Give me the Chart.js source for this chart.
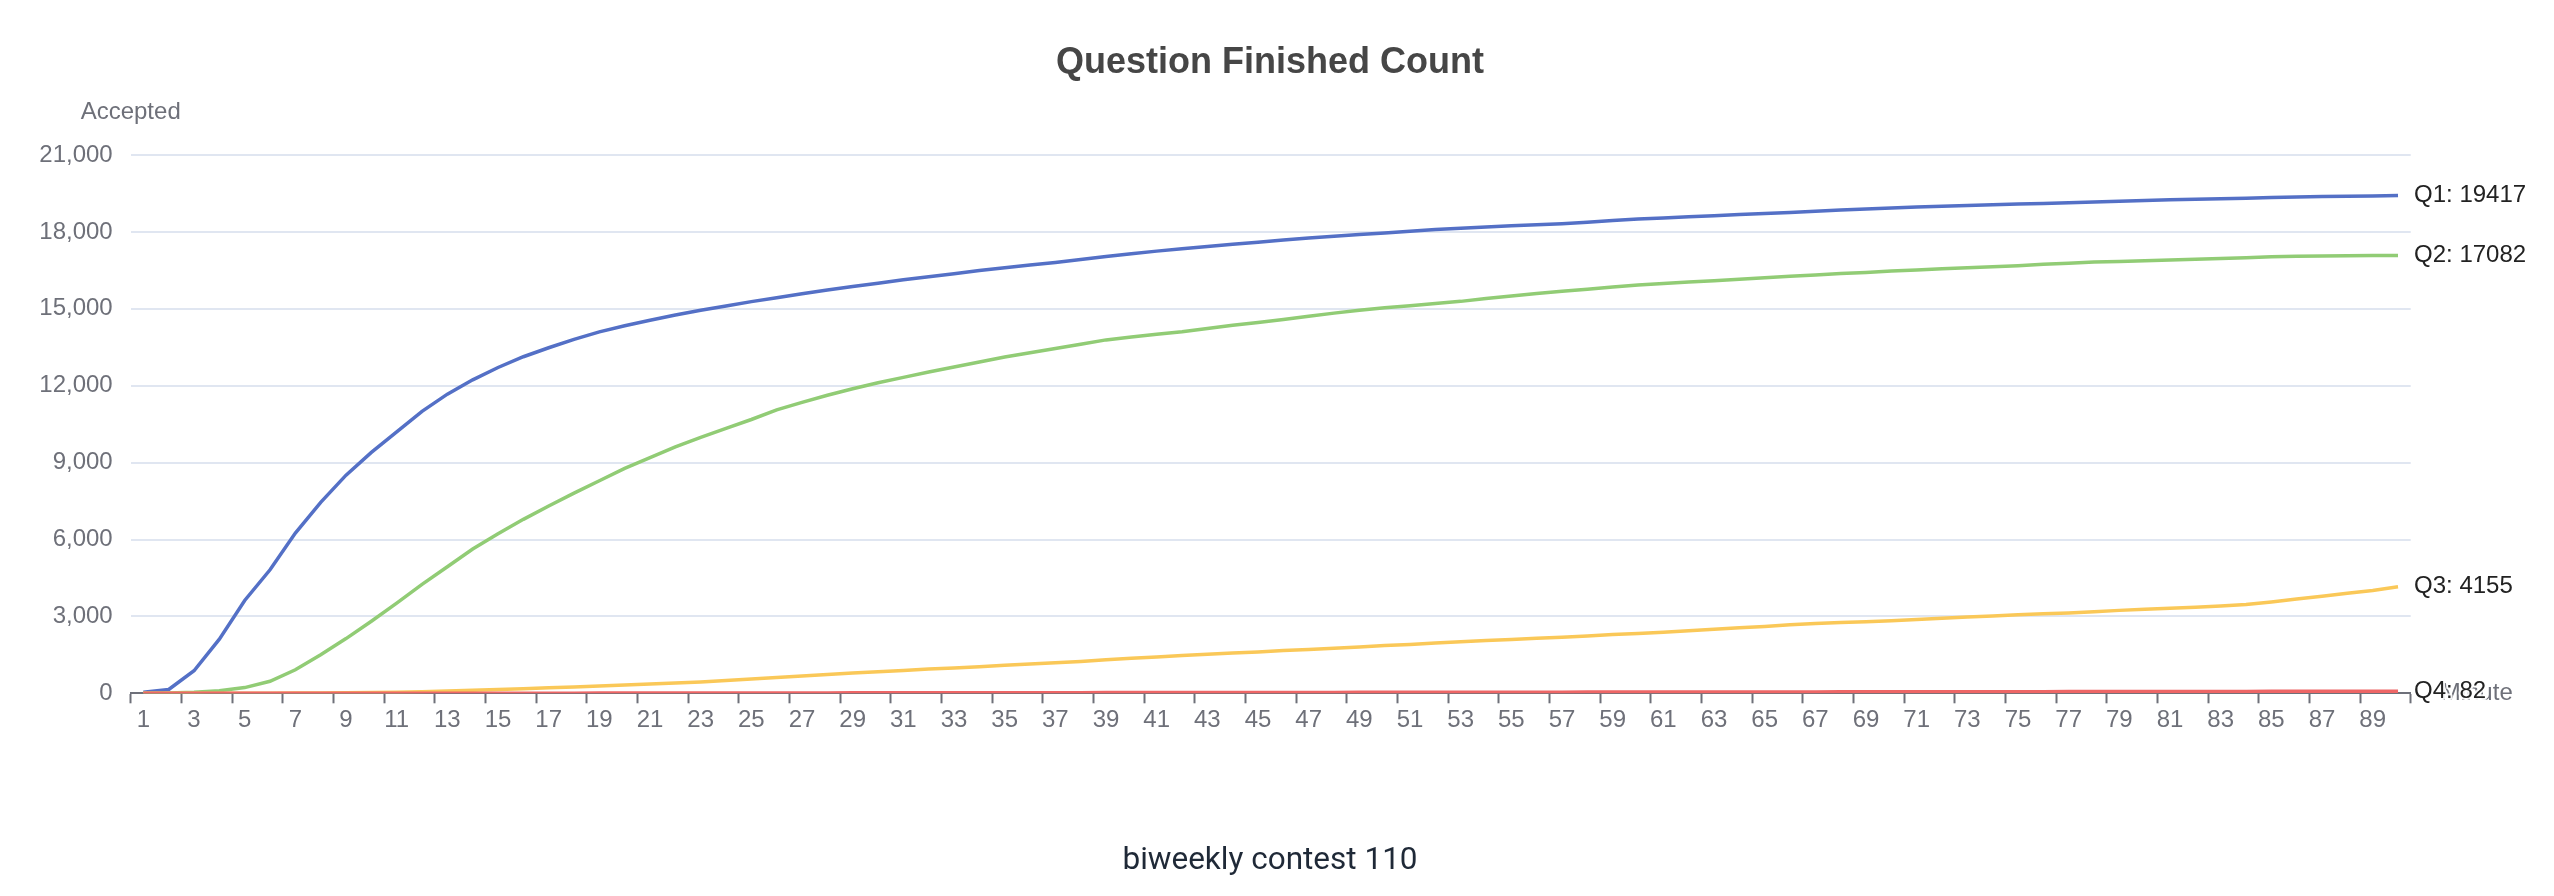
<!DOCTYPE html>
<html lang="en">
<head>
  <meta charset="UTF-8" />
  <title>Question Finished Count</title>
  <script src="https://cdn.jsdelivr.net/npm/chart.js"></script>
  <style>
    body {
      margin: 0;
      background: white;
      width: 2554px;
      height: 896px;
      overflow: hidden;
      position: relative;
      font-family: 'Liberation Sans', Arial, sans-serif;
    }

    #chart {
      position: absolute;
      left: 0;
      top: 0;
    }

    .chart-title {
      position: absolute;
      left: 0;
      top: 39px;
      width: 2540px;
      text-align: center;
      font-size: 36px;
      line-height: 44px;
      font-weight: bold;
      color: #464646;
    }

    .caption {
      position: absolute;
      left: 0;
      top: 839px;
      width: 2540px;
      text-align: center;
      font-family: Roboto, sans-serif;
      font-size: 31.5px;
      line-height: 40px;
      color: #1f2937;
    }
  </style>
</head>
<body>
  <canvas id="chart" width="2554" height="896"></canvas>
  <div class="chart-title">Question Finished Count</div>
  <div class="caption">biweekly contest 110</div>

  <script>
    const minutes = [
      1, 2, 3, 4, 5, 6, 7, 8, 9, 10, 11, 12, 13, 14, 15, 16, 17, 18, 19, 20,
      21, 22, 23, 24, 25, 26, 27, 28, 29, 30, 31, 32, 33, 34, 35, 36, 37, 38, 39, 40,
      41, 42, 43, 44, 45, 46, 47, 48, 49, 50, 51, 52, 53, 54, 55, 56, 57, 58, 59, 60,
      61, 62, 63, 64, 65, 66, 67, 68, 69, 70, 71, 72, 73, 74, 75, 76, 77, 78, 79, 80,
      81, 82, 83, 84, 85, 86, 87, 88, 89, 90
    ];

    const q1 = [
      45, 150, 880, 2110, 3620, 4820, 6250, 7450, 8510, 9400,
      10200, 11000, 11670, 12230, 12710, 13130, 13480, 13810, 14100, 14340,
      14550, 14760, 14940, 15110, 15280, 15430, 15590, 15730, 15870, 16000,
      16130, 16250, 16370, 16490, 16600, 16710, 16810, 16920, 17040, 17150,
      17250, 17340, 17430, 17520, 17600, 17680, 17760, 17830, 17900, 17960,
      18030, 18090, 18145, 18195, 18240, 18280, 18320, 18380, 18440, 18500,
      18545, 18590, 18630, 18675, 18715, 18760, 18805, 18850, 18890, 18930,
      18970, 19000, 19030, 19060, 19085, 19110, 19140, 19170, 19200, 19225,
      19250, 19270, 19295, 19315, 19340, 19360, 19380, 19395, 19405, 19417
    ];

    const q2 = [
      0, 10, 37, 100, 222, 469, 916, 1502, 2134, 2813,
      3520, 4250, 4935, 5630, 6222, 6786, 7305, 7810, 8294, 8773,
      9191, 9609, 9985, 10333, 10681, 11057, 11350, 11628, 11879, 12116,
      12324, 12533, 12728, 12923, 13118, 13285, 13452, 13619, 13787, 13900,
      14005, 14107, 14232, 14357, 14469, 14580, 14706, 14831, 14940, 15040,
      15120, 15207, 15290, 15402, 15500, 15597, 15681, 15764, 15848, 15931,
      15987, 16043, 16099, 16154, 16210, 16266, 16321, 16377, 16419, 16474,
      16516, 16558, 16600, 16641, 16683, 16739, 16781, 16822, 16850, 16878,
      16906, 16934, 16962, 16990, 17032, 17050, 17062, 17070, 17076, 17082
    ];

    const q3 = [
      0, 0, 1, 2, 4, 6, 10, 15, 22, 32,
      45, 62, 85, 115, 150, 180, 215, 250, 285, 320,
      360, 400, 445, 500, 560, 620, 675, 735, 790, 840,
      890, 945, 990, 1040, 1090, 1140, 1190, 1245, 1305, 1365,
      1420, 1470, 1520, 1570, 1615, 1665, 1710, 1760, 1810, 1860,
      1905, 1960, 2015, 2060, 2100, 2145, 2190, 2240, 2290, 2330,
      2380, 2440, 2500, 2555, 2610, 2670, 2720, 2760, 2795, 2830,
      2880, 2930, 2975, 3020, 3060, 3100, 3135, 3185, 3235, 3280,
      3320, 3360, 3410, 3460, 3560, 3680, 3790, 3900, 4010, 4155
    ];

    const q4 = [
      0, 0, 0, 0, 0, 1, 1, 1, 2, 2,
      2, 3, 3, 4, 4, 5, 5, 6, 7, 8,
      9, 10, 11, 12, 13, 14, 15, 16, 17, 18,
      19, 20, 21, 22, 23, 24, 25, 26, 27, 28,
      29, 30, 31, 32, 33, 34, 35, 36, 37, 38,
      39, 40, 41, 42, 43, 44, 45, 46, 47, 48,
      49, 50, 51, 52, 53, 54, 55, 56, 57, 58,
      59, 60, 61, 62, 63, 65, 66, 67, 69, 70,
      71, 72, 73, 75, 76, 77, 78, 80, 81, 82
    ];

    const seriesNames = ["Q1", "Q2", "Q3", "Q4"];
    const seriesColors = ["#5470c6", "#91cc75", "#fac858", "#ee6666"];
    const yMin = 0;
    const yMax = 21000;
    const yStep = 3000;

    const axisGray = "#6E7079";
    const fontFamily = "'Liberation Sans', Arial, sans-serif";

    // axis names + end labels, drawn after the lines
    const extraText = {
      id: "extraText",
      afterDatasetsDraw(chart) {
        const ctx = chart.ctx;
        const area = chart.chartArea;
        ctx.save();

        ctx.font = "24px " + fontFamily;
        ctx.fillStyle = axisGray;
        ctx.textAlign = "center";
        ctx.textBaseline = "alphabetic";
        ctx.fillText("Accepted", area.left, 119);

        ctx.textAlign = "left";
        ctx.textBaseline = "middle";
        ctx.fillText("Minute", area.right + 30, area.bottom);

        chart.data.datasets.forEach((ds, i) => {
          const meta = chart.getDatasetMeta(i);
          const last = meta.data[meta.data.length - 1];
          const value = ds.data[ds.data.length - 1];
          const text = seriesNames[i] + ": " + value;
          ctx.font = "24px " + fontFamily;
          ctx.textAlign = "left";
          ctx.textBaseline = "middle";
          ctx.lineJoin = "round";
          ctx.strokeStyle = "rgba(255,255,255,0.9)";
          ctx.lineWidth = 4;
          ctx.strokeText(text, last.x + 16, last.y);
          ctx.fillStyle = "#222";
          ctx.fillText(text, last.x + 16, last.y);
        });

        ctx.restore();
      },
    };

    const chart = new Chart(document.getElementById("chart"), {
      type: "line",
      data: {
        labels: minutes,
        datasets: [
          { label: seriesNames[0], data: q1, borderColor: seriesColors[0], order: 3 },
          { label: seriesNames[1], data: q2, borderColor: seriesColors[1], order: 2 },
          { label: seriesNames[2], data: q3, borderColor: seriesColors[2], order: 1 },
          { label: seriesNames[3], data: q4, borderColor: seriesColors[3], order: 0 },
        ],
      },
      options: {
        responsive: false,
        animation: false,
        devicePixelRatio: 1,
        layout: {
          padding: { top: 155, left: 0, right: 143.3, bottom: 142.7 },
        },
        elements: {
          line: { borderWidth: 3.5, tension: 0, fill: false },
          point: { radius: 0, hoverRadius: 0 },
        },
        plugins: {
          legend: { display: false },
          tooltip: { enabled: false },
          title: { display: false },
        },
        scales: {
          x: {
            offset: true,
            grid: {
              offset: true,
              drawOnChartArea: false,
              drawTicks: true,
              tickLength: 10,
              tickWidth: 2,
              tickColor: (c) => (c.type === "scale" || c.index % 2 === 0 ? axisGray : "rgba(0,0,0,0)"),
            },
            border: { display: true, color: axisGray, width: 2 },
            ticks: {
              autoSkip: false,
              maxRotation: 0,
              padding: 3,
              color: axisGray,
              font: { size: 24, family: fontFamily },
              callback: (v, i) => (i % 2 === 0 ? minutes[i] : ""),
            },
            afterFit: (scale) => {
              scale.height = 60;
            },
          },
          y: {
            min: yMin,
            max: yMax,
            grid: { color: "#E0E6F1", lineWidth: 2, drawTicks: false },
            border: { display: false },
            ticks: {
              stepSize: yStep,
              padding: 18,
              color: axisGray,
              font: { size: 24, family: fontFamily },
            },
            afterFit: (scale) => {
              scale.width = 130.7;
            },
          },
        },
      },
      plugins: [extraText],
    });
  </script>
</body>
</html>
